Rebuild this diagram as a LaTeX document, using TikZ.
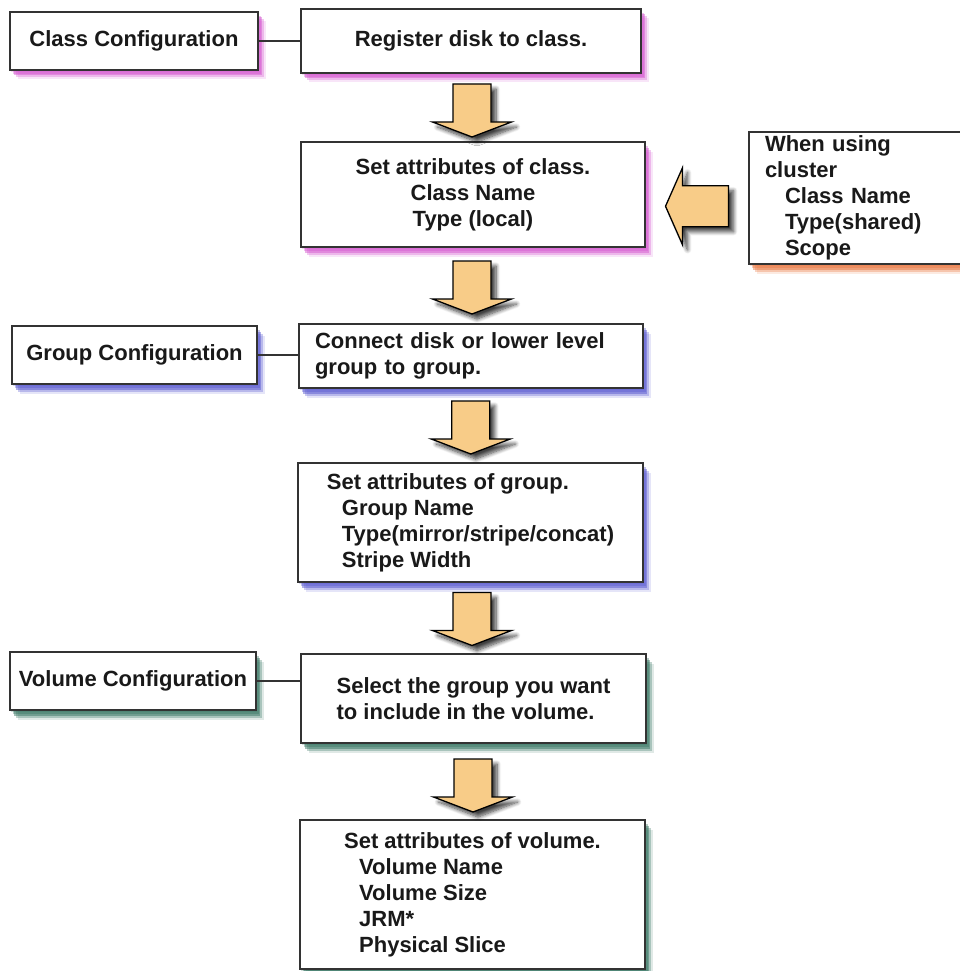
\documentclass[tikz,border=0pt]{standalone}
\usepackage{fontspec}
\setmainfont{Liberation Sans}
\usetikzlibrary{calc, shadows.blur}

\definecolor{classpink}{RGB}{210,80,205}
\definecolor{groupblue}{RGB}{80,80,205}
\definecolor{volgreen}{RGB}{45,110,90}
\definecolor{clusterorange}{RGB}{232,112,55}
\definecolor{arrowtan}{RGB}{248,204,136}

\tikzset{
  cfgbox/.style={draw=black!80, line width=1.5pt, fill=white, inner sep=0pt,
    font=\bfseries\fontsize{22}{26}\selectfont, text=black!90},
  link/.style={line width=1.5pt, draw=black!80},
  % coloured shadow built from a few faint offset copies
  softshadow/.style={
    general shadow={fill=#1, opacity=.22, shadow xshift=1pt, shadow yshift=-2pt},
    general shadow={fill=#1, opacity=.35, shadow xshift=3pt, shadow yshift=-4pt},
    general shadow={fill=#1, opacity=.45, shadow xshift=4pt, shadow yshift=-5.5pt},
    general shadow={fill=#1, opacity=.3, shadow xshift=6pt, shadow yshift=-7.5pt},
    general shadow={fill=#1, opacity=.15, shadow xshift=8pt, shadow yshift=-9.5pt}},
  arrowbody/.style={draw=black, line width=1.3pt, fill=arrowtan, line join=miter,
    blur shadow={shadow xshift=5pt, shadow yshift=-5pt, shadow blur radius=4pt,
    shadow blur steps=8, shadow opacity=75}}
}
\tikzset{
  pics/downarrow/.style={code={
    \draw[arrowbody] (-19,-26.5) -- (19,-26.5) -- (19,11.5) -- (39.5,11.5)
      -- (0,26.5) -- (-39.5,11.5) -- (-19,11.5) -- cycle;
  }},
  pics/leftarrow/.style={code={
    \draw[arrowbody] (31.5,-20.5) -- (31.5,20.5) -- (-14.5,20.5) -- (-14.5,38.5)
      -- (-31.5,0) -- (-14.5,-38.5) -- (-14.5,-20.5) -- cycle;
  }}
}

\begin{document}
\begin{tikzpicture}[x=1pt, y=-1pt]
  \useasboundingbox (0,0) rectangle (960,971);

  % class level
  \node[cfgbox, softshadow=classpink, minimum width=248pt, minimum height=58pt]
    (classcfg) at (134,41) {Class Configuration};
  \node[cfgbox, softshadow=classpink, minimum width=340pt, minimum height=64pt]
    (register) at (471,41) {Register disk to class.};
  \node[cfgbox, softshadow=classpink, minimum width=344pt, minimum height=105pt, align=center]
    (setclass) at (473,194.5) {Set attributes of class.\\Class Name\\Type (local)};
  \node[cfgbox, softshadow=clusterorange, text width=181pt, inner xsep=16pt,
    minimum height=132pt, align=left]
    (cluster) at (855.5,198) {When using\\cluster\\\hspace*{20pt}Class Name\\
      \hspace*{20pt}Type(shared)\\\hspace*{20pt}Scope};

  % group level
  \node[cfgbox, softshadow=groupblue, minimum width=245pt, minimum height=58pt]
    (groupcfg) at (134.5,355) {Group Configuration};
  \node[cfgbox, softshadow=groupblue, text width=312pt, inner xsep=16pt,
    minimum height=64pt, align=left]
    (connect) at (471,356) {Connect disk or lower level\\group to group.};
  \node[cfgbox, softshadow=groupblue, minimum width=345pt, minimum height=119pt, align=left]
    (grpattr) at (470.5,522.5) {Set attributes of group.\\\hspace*{15pt}Group Name\\
      \hspace*{15pt}Type(mirror/stripe/concat)\\\hspace*{15pt}Stripe Width};

  % volume level
  \node[cfgbox, softshadow=volgreen, minimum width=246pt, minimum height=58pt]
    (volcfg) at (133,681) {Volume Configuration};
  \node[cfgbox, softshadow=volgreen, minimum width=345pt, minimum height=89pt, align=left]
    (select) at (473.5,698.5) {Select the group you want\\to include in the volume.};
  \node[cfgbox, softshadow=volgreen, minimum width=345pt, minimum height=149pt, align=left]
    (volattr) at (472.5,894.5) {Set attributes of volume.\\\hspace*{15pt}Volume Name\\
      \hspace*{15pt}Volume Size\\\hspace*{15pt}JRM*\\\hspace*{15pt}Physical Slice};

  % lines from each level to its first step
  \draw[link] (classcfg.east) -- (classcfg.east -| register.west);
  \draw[link] (groupcfg.east) -- (groupcfg.east -| connect.west);
  \draw[link] (volcfg.east) -- (volcfg.east -| select.west);

  % block arrows between the steps
  \pic at ($(register.south)!.5!(setclass.north)+(0,3)$) {downarrow};
  \pic at ($(setclass.south)!.5!(connect.north)+(0,2)$) {downarrow};
  \pic at ($(connect.south)!.5!(grpattr.north)+(0,2)$) {downarrow};
  \pic at ($(grpattr.south)!.5!(select.north)+(0,1)$) {downarrow};
  \pic at ($(select.south)!.5!(volattr.north)+(0,4)$) {downarrow};
  \pic at ($(setclass.east)!.5!(cluster.west)+(0,10)$) {leftarrow};
\end{tikzpicture}
\end{document}
